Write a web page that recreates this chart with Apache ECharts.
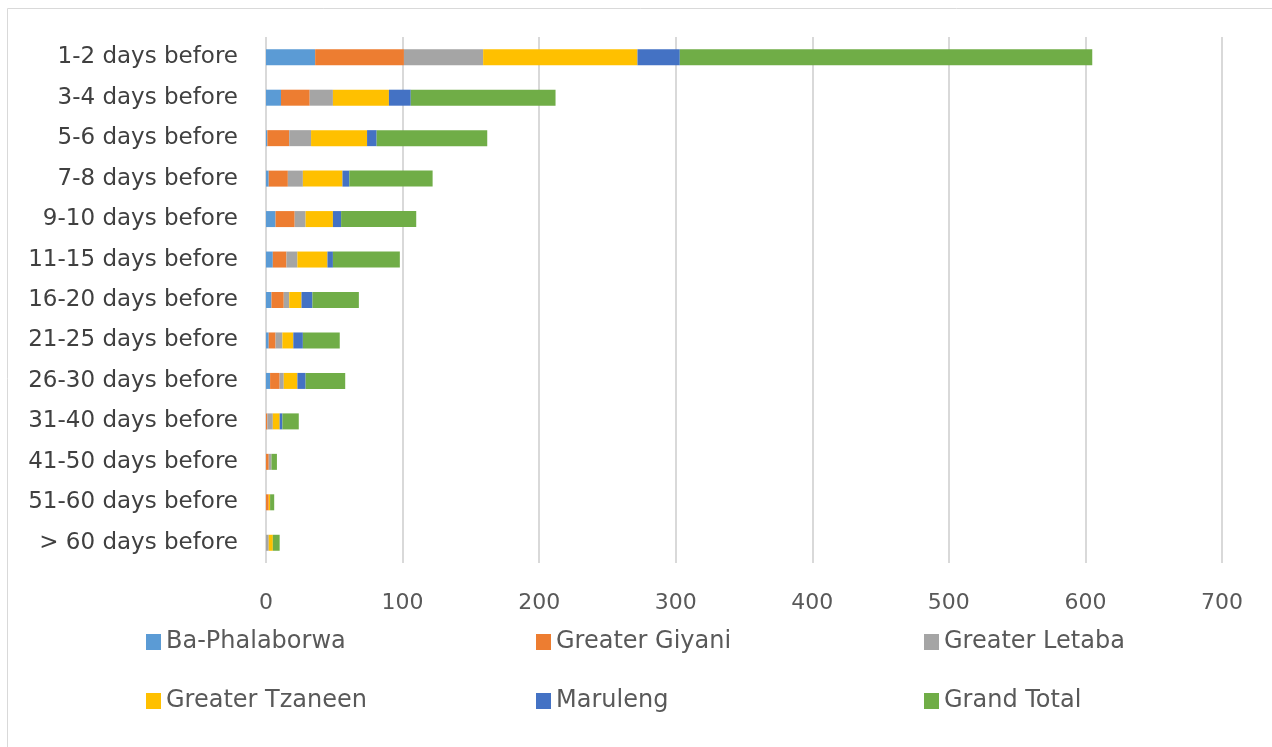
<!DOCTYPE html>
<html>
<head>
<meta charset="utf-8">
<script src="https://cdn.jsdelivr.net/npm/echarts@6/dist/echarts.min.js"></script>
<style>
html,body{margin:0;padding:0;background:#fff;}
#chart{width:1272px;height:747px;}
</style>
</head>
<body>
<div id="chart"></div>
<script>
const categories = ["1-2 days before","3-4 days before","5-6 days before","7-8 days before","9-10 days before","11-15 days before","16-20 days before","21-25 days before","26-30 days before","31-40 days before","41-50 days before","51-60 days before","> 60 days before"];
const seriesNames = ["Ba-Phalaborwa","Greater Giyani","Greater Letaba","Greater Tzaneen","Maruleng","Grand Total"];
const baPhalaborwa   = [36, 11, 1, 2, 7, 5, 4, 2, 3, 0, 0, 0, 0];
const greaterGiyani  = [65, 21, 16, 14, 14, 10, 9, 5, 7, 1, 2, 2, 0];
const greaterLetaba  = [58, 17, 16, 11, 8, 8, 4, 5, 3, 4, 2, 0, 2];
const greaterTzaneen = [113, 41, 41, 29, 20, 22, 9, 8, 10, 5, 0, 1, 3];
const maruleng       = [31, 16, 7, 5, 6, 4, 8, 7, 6, 2, 0, 0, 0];
const grandTotal     = [302, 106, 81, 61, 55, 49, 34, 27, 29, 12, 4, 3, 5];
const xTicks = [0, 100, 200, 300, 400, 500, 600, 700];

const colors = ["#5B9BD5","#ED7D31","#A5A5A5","#FFC000","#4472C4","#70AD47"];
const values = [baPhalaborwa, greaterGiyani, greaterLetaba, greaterTzaneen, maruleng, grandTotal];

const chart = echarts.init(document.getElementById('chart'));
const font = "'DejaVu Sans', 'Liberation Sans', Arial, sans-serif";

const legendPos = [
  {left: 141, top: 625}, {left: 531, top: 625}, {left: 919, top: 625},
  {left: 141, top: 684}, {left: 531, top: 684}, {left: 919, top: 684}
];

chart.setOption({
  animation: false,
  color: colors,
  graphic: [{
    type: 'rect', silent: true,
    shape: {x: 7.5, y: 8.5, width: 1400, height: 900},
    style: {fill: 'none', stroke: '#d9d9d9', lineWidth: 1}
  }],
  grid: {left: 266, right: 50, top: 37, bottom: 184, containLabel: false},
  legend: seriesNames.map((n, i) => ({
    data: [n], left: legendPos[i].left, top: legendPos[i].top,
    itemWidth: 15, itemHeight: 16, itemGap: 6, icon: 'rect',
    textStyle: {fontFamily: font, fontSize: 24, color: '#595959'}
  })),
  xAxis: {
    type: 'value', min: xTicks[0], max: xTicks[xTicks.length - 1], interval: 100,
    axisLine: {show: false}, axisTick: {show: false},
    splitLine: {lineStyle: {color: '#d9d9d9', width: 2}},
    axisLabel: {fontFamily: font, fontSize: 22, color: '#595959', margin: 29}
  },
  yAxis: {
    type: 'category', data: categories, inverse: true,
    axisLine: {show: false}, axisTick: {show: false},
    axisLabel: {fontFamily: font, fontSize: 23, color: '#404040', margin: 28}
  },
  series: seriesNames.map((n, i) => ({
    name: n, type: 'bar', stack: 'total', barWidth: 16,
    data: values[i],
    itemStyle: {color: colors[i]}
  }))
});
</script>
</body>
</html>
